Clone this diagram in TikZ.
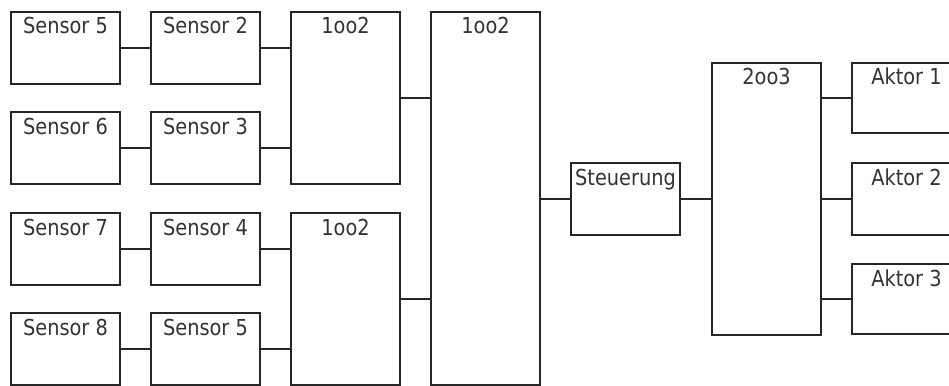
\documentclass[tikz,border=0pt]{standalone}
\usepackage{fontspec}
\setmainfont[FakeStretch=0.88]{DejaVu Sans}
\begin{document}
\begin{tikzpicture}[x=1pt, y=-1pt,
  blk/.style={draw=black!85, line width=2pt, fill=white, rectangle,
    anchor=north west, inner sep=0pt, minimum width=109pt},
  cap/.style={label={[anchor=base, yshift=-23pt, inner sep=0pt,
    text=black!80, font=\fontsize{22}{26}\selectfont]north:#1}},
  wire/.style={draw=black!85, line width=2pt}]
  \clip (0,0) rectangle (949,385);
  \fill[white] (0,0) rectangle (949,385);

  % sensor columns
  \node[blk, minimum height=72pt, cap={Sensor 5}] (s5a) at (10,11) {};
  \node[blk, minimum height=72pt, cap={Sensor 6}] (s6)  at (10,111) {};
  \node[blk, minimum height=72pt, cap={Sensor 7}] (s7)  at (10,212) {};
  \node[blk, minimum height=72pt, cap={Sensor 8}] (s8)  at (10,312) {};
  \node[blk, minimum height=72pt, cap={Sensor 2}] (s2)  at (150,11) {};
  \node[blk, minimum height=72pt, cap={Sensor 3}] (s3)  at (150,111) {};
  \node[blk, minimum height=72pt, cap={Sensor 4}] (s4)  at (150,212) {};
  \node[blk, minimum height=72pt, cap={Sensor 5}] (s5b) at (150,312) {};

  % voters
  \node[blk, minimum height=172pt, cap={1oo2}] (va) at (290,11) {};
  \node[blk, minimum height=172pt, cap={1oo2}] (vb) at (290,212) {};
  \node[blk, minimum height=373pt, cap={1oo2}] (vc) at (430,11) {};

  % controller and output voter
  \node[blk, minimum height=72pt, cap={Steuerung}] (ctl) at (570,162) {};
  \node[blk, minimum height=272pt, cap={2oo3}] (vd) at (711,62) {};

  % actuators
  \node[blk, minimum height=70pt, cap={Aktor 1}] (a1) at (851,62) {};
  \node[blk, minimum height=72pt, cap={Aktor 2}] (a2) at (851,162) {};
  \node[blk, minimum height=70pt, cap={Aktor 3}] (a3) at (851,263) {};

  % connections
  \draw[wire] (s5a.east) -- (s2.west);
  \draw[wire] (s6.east) -- (s3.west);
  \draw[wire] (s7.east) -- (s4.west);
  \draw[wire] (s8.east) -- (s5b.west);
  \draw[wire] (s2.east) -- (s2.east -| va.west);
  \draw[wire] (s3.east) -- (s3.east -| va.west);
  \draw[wire] (s4.east) -- (s4.east -| vb.west);
  \draw[wire] (s5b.east) -- (s5b.east -| vb.west);
  \draw[wire] (va.east) -- (va.east -| vc.west);
  \draw[wire] (vb.east) -- (vb.east -| vc.west);
  \draw[wire] (ctl.west -| vc.east) -- (ctl.west);
  \draw[wire] (ctl.east) -- (ctl.east -| vd.west);
  \draw[wire] (a1.west -| vd.east) -- (a1.west);
  \draw[wire] (a2.west -| vd.east) -- (a2.west);
  \draw[wire] (a3.west -| vd.east) -- (a3.west);
\end{tikzpicture}
\end{document}
